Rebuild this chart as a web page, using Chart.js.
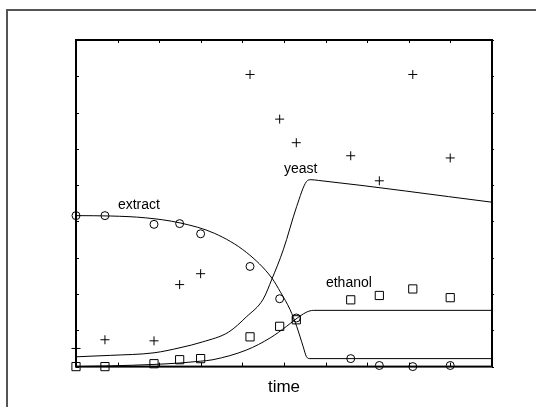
<!DOCTYPE html>
<html>
<head>
<meta charset="utf-8">
<script src="https://cdn.jsdelivr.net/npm/chart.js@4/dist/chart.umd.min.js"></script>
<style>
  html, body { margin: 0; padding: 0; background: #fff; overflow: hidden; }
  #wrap { position: relative; width: 536px; height: 407px; }
  #frame { position: absolute; left: 6px; top: 9px; width: 700px; height: 600px;
           border-left: 2px solid #555; border-top: 2px solid #555; }
  #chart { position: absolute; left: 0; top: 0; }
</style>
</head>
<body>
<div id="wrap">
  <div id="frame"></div>
  <canvas id="chart" width="536" height="407"></canvas>
</div>
<script>
// sampling times (h) and measured values
const sampleTimes = [0, 16.7, 45, 59.8, 71.9, 100.4, 117.5, 127.1, 158.5, 175, 194.3, 215.9];
const extractObs  = [4.16, 4.16, 3.92, 3.94, 3.66, 2.76, 1.87, 1.34, 0.22, 0.03, 0.0, 0.03];
const yeastObs    = [0.50, 0.74, 0.71, 2.26, 2.56, 8.05, 6.82, 6.17, 5.81, 5.12, 8.05, 5.75];
const ethanolObs  = [0.0, 0.0, 0.08, 0.19, 0.22, 0.82, 1.11, 1.29, 1.84, 1.96, 2.14, 1.90];

// model curves
const extractFitT = [0, 20, 40, 60, 80, 98.5, 113, 118, 123.5, 127.3, 131, 133, 135, 240];
const extractFit  = [4.16, 4.15, 4.10, 3.96, 3.67, 3.14, 2.44, 2.05, 1.57, 1.11, 0.56, 0.27, 0.22, 0.22];
const yeastFitT = [0, 20, 45, 60, 73, 88, 98.5, 108, 113, 119.6, 127.3, 133, 135.5, 140, 240];
const yeastFit  = [0.27, 0.31, 0.38, 0.52, 0.68, 0.95, 1.38, 1.86, 2.41, 3.22, 4.41, 5.10, 5.15, 5.13, 4.53];
const ethanolFitT = [0, 20, 45, 60, 72, 79, 98.5, 112, 121.5, 126.3, 133, 137, 240];
const ethanolFit  = [0, 0.02, 0.06, 0.10, 0.15, 0.19, 0.46, 0.79, 1.11, 1.29, 1.50, 1.55, 1.55];

const curveLabels = ['extract', 'yeast', 'ethanol'];
const labelT = [24.2, 120, 144.2];
const labelY = [4.46, 5.45, 2.31];

const xMax = 240, xStep = 24, yMax = 9, yStep = 1;

const pts = (xs, ys) => xs.map((x, i) => ({ x: x, y: ys[i] }));

const markerSet = (label, ys, style, r) => ({
    label: label,
    data: pts(sampleTimes, ys),
    showLine: false,
    pointStyle: style,
    pointRadius: r,
    pointBorderColor: '#000',
    pointBackgroundColor: 'rgba(0,0,0,0)',
    pointBorderWidth: 1,
    clip: false
});

const curveSet = (label, xs, ys) => ({
    label: label,
    data: pts(xs, ys),
    showLine: true,
    borderColor: '#000',
    borderWidth: 1,
    pointRadius: 0,
    cubicInterpolationMode: 'monotone',
    clip: false
});

// frame, inward ticks and curve names
const framePlugin = {
    id: 'frame',
    afterDatasetsDraw(chart) {
        const { ctx, chartArea: a, scales: { x, y } } = chart;
        ctx.save();
        ctx.strokeStyle = '#000';
        ctx.lineWidth = 2;
        ctx.strokeRect(a.left, a.top, a.right - a.left, a.bottom - a.top);
        ctx.lineWidth = 1;
        ctx.beginPath();
        for (let v = 0; v <= xMax; v += xStep) {
            const px = Math.round(x.getPixelForValue(v)) + 0.5;
            ctx.moveTo(px, a.bottom); ctx.lineTo(px, a.bottom - 4);
            ctx.moveTo(px, a.top); ctx.lineTo(px, a.top + 3);
        }
        for (let v = 0; v <= yMax; v += yStep) {
            const py = Math.round(y.getPixelForValue(v)) + 0.5;
            ctx.moveTo(a.left, py); ctx.lineTo(a.left + 3, py);
            ctx.moveTo(a.right, py); ctx.lineTo(a.right + 2, py);
        }
        ctx.stroke();
        ctx.fillStyle = '#000';
        ctx.font = '14px "Liberation Sans", Arial, sans-serif';
        ctx.textAlign = 'left';
        ctx.textBaseline = 'middle';
        curveLabels.forEach((t, i) => {
            ctx.fillText(t, x.getPixelForValue(labelT[i]), y.getPixelForValue(labelY[i]));
        });
        ctx.restore();
    }
};

new Chart(document.getElementById('chart'), {
    type: 'scatter',
    data: {
        datasets: [
            markerSet('extract', extractObs, 'circle', 4),
            markerSet('yeast', yeastObs, 'cross', 4.5),
            markerSet('ethanol', ethanolObs, 'rect', 5.8),
            curveSet('extract model', extractFitT, extractFit),
            curveSet('yeast model', yeastFitT, yeastFit),
            curveSet('ethanol model', ethanolFitT, ethanolFit)
        ]
    },
    options: {
        responsive: false,
        animation: false,
        layout: { padding: { left: 76, top: 40, right: 44, bottom: 0 } },
        plugins: {
            legend: { display: false },
            tooltip: { enabled: false },
            title: {
                display: true,
                text: 'time',
                position: 'bottom',
                color: '#000',
                font: { family: '"Liberation Sans", Arial, sans-serif', size: 17, weight: 'normal' },
                padding: { top: 11, bottom: 9 }
            }
        },
        scales: {
            x: { type: 'linear', min: 0, max: xMax, display: false },
            y: { type: 'linear', min: 0, max: yMax, display: false }
        }
    },
    plugins: [framePlugin]
});
</script>
</body>
</html>
